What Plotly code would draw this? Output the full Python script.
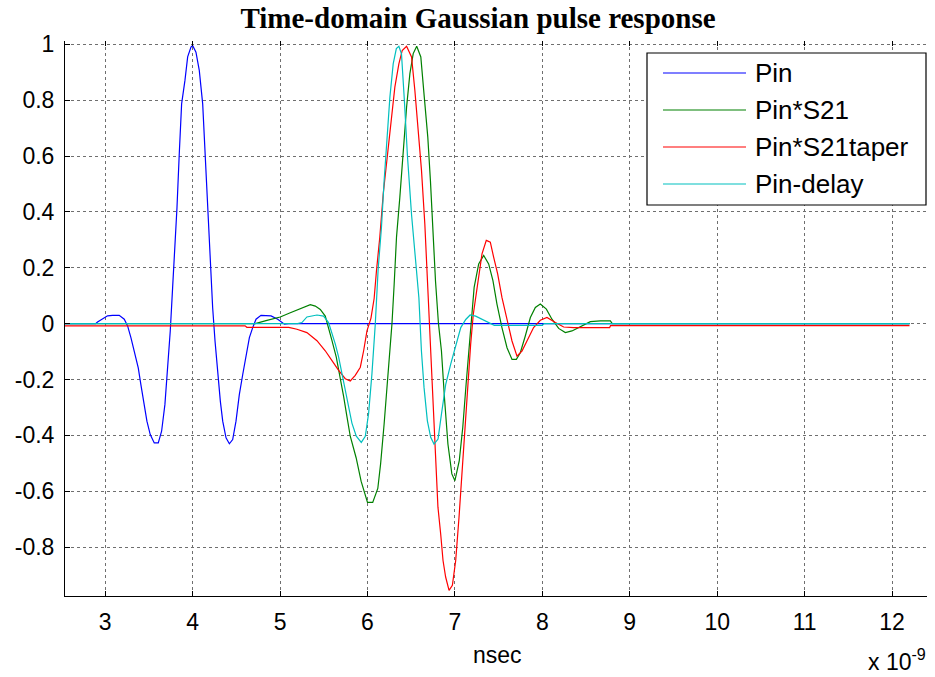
import plotly.graph_objects as go

# ---------------- data (time in ns, amplitude normalised) ----------------
series_names = ["Pin", "Pin*S21", "Pin*S21taper", "Pin-delay"]

pin_t = [2.54, 2.89, 2.912, 2.97, 3.027, 3.084, 3.16, 3.218, 3.256, 3.294, 3.332, 3.378,
         3.408, 3.439, 3.477, 3.515, 3.561, 3.607, 3.645, 3.683, 3.714, 3.744, 3.771,
         3.798, 3.821, 3.847, 3.874, 3.912, 3.943, 3.981, 4.0, 4.038, 4.076, 4.115,
         4.141, 4.172, 4.202, 4.229, 4.256, 4.286, 4.317, 4.344, 4.382, 4.42, 4.458,
         4.496, 4.534, 4.573, 4.611, 4.649, 4.687, 4.725, 4.782, 4.897, 4.973, 5.05,
         5.1, 12.2]
pin_v = [0, 0, 0.006, 0.016, 0.028, 0.03, 0.03, 0.016, -0.008, -0.05, -0.098, -0.158,
         -0.218, -0.278, -0.349, -0.397, -0.427, -0.427, -0.385, -0.289, -0.17, -0.026,
         0.129, 0.273, 0.416, 0.608, 0.787, 0.871, 0.955, 0.99, 0.996, 0.972, 0.907,
         0.787, 0.608, 0.416, 0.225, 0.057, -0.062, -0.182, -0.278, -0.349, -0.409,
         -0.43, -0.415, -0.349, -0.254, -0.182, -0.11, -0.05, -0.014, 0.016, 0.03,
         0.028, 0.016, -0.002, 0, 0]

s21_t = [2.54, 4.716, 4.85, 5.002, 5.117, 5.231, 5.346, 5.403, 5.46, 5.517, 5.555,
         5.594, 5.643, 5.689, 5.727, 5.765, 5.803, 5.87, 5.927, 6.0, 6.06, 6.118,
         6.15, 6.19, 6.228, 6.28, 6.305, 6.332, 6.37, 6.408, 6.447, 6.485, 6.523,
         6.563, 6.61, 6.65, 6.69, 6.72, 6.748, 6.778, 6.812, 6.846, 6.883, 6.92,
         6.965, 7.0, 7.05, 7.09, 7.128, 7.166, 7.2, 7.22, 7.272, 7.329, 7.386, 7.435,
         7.481, 7.538, 7.596, 7.653, 7.703, 7.748, 7.805, 7.863, 7.92, 7.977, 8.046,
         8.11, 8.187, 8.263, 8.339, 8.435, 8.549, 8.664, 8.778, 8.8, 12.2]
s21_v = [0, 0, 0.012, 0.024, 0.039, 0.054, 0.068, 0.063, 0.051, 0.027, -0.014,
         -0.061, -0.12, -0.19, -0.26, -0.333, -0.403, -0.48, -0.564, -0.64, -0.64, -0.59,
         -0.502, -0.36, -0.217, 0.0, 0.14, 0.31, 0.452, 0.63, 0.775, 0.895, 0.967,
         0.993, 0.955, 0.81, 0.667, 0.512, 0.333, 0.153, 0.0, -0.098, -0.276, -0.431,
         -0.538, -0.562, -0.49, -0.371, -0.217, -0.074, 0.045, 0.13, 0.214, 0.244,
         0.214, 0.154, 0.07, -0.014, -0.086, -0.128, -0.128, -0.104, -0.044, 0.022,
         0.058, 0.07, 0.052, 0.016, -0.017, -0.032, -0.026, -0.012, 0.007, 0.01, 0.01,
         0, 0]

taper_t = [2.54, 4.6, 4.62, 5.1, 5.193, 5.307, 5.422, 5.517, 5.594, 5.67, 5.746, 5.803,
           5.86, 5.918, 5.956, 5.994, 6.04, 6.076, 6.103, 6.141, 6.18, 6.237, 6.275,
           6.313, 6.359, 6.397, 6.447, 6.504, 6.542, 6.58, 6.618, 6.656, 6.68, 6.70,
           6.72, 6.75, 6.78, 6.806, 6.837, 6.864, 6.894, 6.933, 6.971, 7.009, 7.047,
           7.085, 7.123, 7.15, 7.18, 7.21, 7.253, 7.31, 7.359, 7.405, 7.443, 7.489,
           7.538, 7.596, 7.653, 7.71, 7.767, 7.824, 7.9, 7.977, 8.053, 8.149, 8.244,
           8.358, 8.77, 8.78, 12.2]
taper_v = [-0.008, -0.008, -0.013, -0.013, -0.02, -0.032, -0.061, -0.097, -0.132,
           -0.167, -0.197, -0.205, -0.185, -0.156, -0.097, -0.026, 0.02, 0.09, 0.19,
           0.31, 0.464, 0.63, 0.75, 0.847, 0.93, 0.978, 0.993, 0.955, 0.835, 0.703,
           0.548, 0.356, 0.2, 0.05, -0.098, -0.276, -0.49, -0.657, -0.752, -0.848,
           -0.907, -0.955, -0.937, -0.848, -0.693, -0.514, -0.371, -0.217, -0.074,
           0.033, 0.13, 0.25, 0.298, 0.292, 0.238, 0.178, 0.094, 0.01, -0.062, -0.116,
           -0.098, -0.062, -0.014, 0.012, 0.022, 0.004, -0.012, -0.014, -0.014, -0.007,
           -0.007]

delay_t = [2.54, 5.2, 5.25, 5.307, 5.422, 5.498, 5.555, 5.594, 5.632, 5.67, 5.708,
           5.746, 5.784, 5.822, 5.872, 5.929, 5.975, 6.013, 6.051, 6.089, 6.122, 6.16,
           6.19, 6.218, 6.256, 6.294, 6.33, 6.359, 6.389, 6.42, 6.458, 6.504, 6.55,
           6.588, 6.617, 6.647, 6.685, 6.723, 6.761, 6.807, 6.846, 6.895, 6.952, 7.01,
           7.067, 7.124, 7.174, 7.238, 7.334, 7.42, 7.45, 8.0, 8.02, 12.2]
delay_v = [0, 0, 0.004, 0.024, 0.031, 0.027, 0.004, -0.032, -0.073, -0.12, -0.179,
           -0.238, -0.297, -0.356, -0.403, -0.425, -0.403, -0.321, -0.179, -0.002,
           0.195, 0.345, 0.51, 0.655, 0.81, 0.93, 0.985, 0.993, 0.966, 0.81, 0.596,
           0.39, 0.213, 0.093, -0.098, -0.229, -0.348, -0.407, -0.431, -0.413, -0.324,
           -0.217, -0.145, -0.074, -0.014, 0.015, 0.031, 0.027, 0.012, 0.0, -0.006,
           -0.006, 0, 0]

x_ticks = [3, 4, 5, 6, 7, 8, 9, 10, 11, 12]
x_tick_labels = ["3", "4", "5", "6", "7", "8", "9", "10", "11", "12"]
y_ticks = [-0.8, -0.6, -0.4, -0.2, 0, 0.2, 0.4, 0.6, 0.8, 1]
y_tick_labels = ["-0.8", "-0.6", "-0.4", "-0.2", "0", "0.2", "0.4", "0.6", "0.8", "1"]

# ---------------- styling ----------------
colors = ["#0000ff", "#008000", "#ff0000", "#00bfbf"]
W, H = 935, 677
L, R, T, B = 65, 927, 41, 596
SANS = "Liberation Sans, Arial, sans-serif"
FS = 23
LEG_FS = 26


def px(xp):
    return (xp - L) / (R - L)


def py(yp):
    return (B - yp) / (B - T)


fig = go.Figure()
data = [(pin_t, pin_v), (s21_t, s21_v), (taper_t, taper_v), (delay_t, delay_v)]
for name, (t, v), c in zip(series_names, data, colors):
    fig.add_trace(go.Scatter(x=t, y=v, mode="lines", name=name,
                             line=dict(color=c, width=1.2), showlegend=False))

# invisible helper trace so the top tick axis is drawn
fig.add_trace(go.Scatter(x=[x_ticks[0]], y=[0], xaxis="x2", mode="markers",
                         marker=dict(opacity=0), showlegend=False, hoverinfo="skip"))

shapes = []
annotations = []
# MATLAB-like legend box
shapes.append(dict(type="rect", xref="paper", yref="paper",
                   x0=px(647), x1=px(926), y0=py(205), y1=py(53),
                   line=dict(color="black", width=1.2), fillcolor="white", layer="above"))
rows = [73, 110, 147, 184]
for name, c, ry in zip(series_names, colors, rows):
    shapes.append(dict(type="line", xref="paper", yref="paper",
                       x0=px(663), x1=px(746), y0=py(ry), y1=py(ry),
                       line=dict(color=c, width=1.2), layer="above"))
    annotations.append(dict(text=name, xref="paper", yref="paper", x=px(753), y=py(ry),
                            xanchor="left", yanchor="middle", showarrow=False,
                            font=dict(family=SANS, size=LEG_FS, color="black")))

annotations.append(dict(text="nsec", xref="paper", yref="paper", x=px(497), y=py(655),
                        xanchor="center", yanchor="middle", showarrow=False,
                        font=dict(family=SANS, size=FS, color="black")))
annotations.append(dict(text="x 10<sup>-9</sup>", xref="paper", yref="paper",
                        x=px(866), y=py(677), xanchor="left", yanchor="bottom",
                        showarrow=False, font=dict(family=SANS, size=FS, color="black")))

axis_common = dict(showgrid=True, gridcolor="#6f6f6f", griddash="dot", gridwidth=1,
                   zeroline=False, showline=True, linecolor="black", linewidth=1,
                   ticks="inside", ticklen=5, tickcolor="black",
                   tickfont=dict(family=SANS, size=FS, color="black"))

fig.update_layout(
    width=W, height=H,
    margin=dict(l=L, r=W - R, t=T, b=H - B),
    paper_bgcolor="white", plot_bgcolor="white",
    title=dict(text="<b>Time-domain Gaussian pulse response</b>",
               font=dict(family="Liberation Serif, Times New Roman, serif", size=29,
                         color="black"),
               x=478 / W, xanchor="center", xref="container",
               y=1 - 18 / H, yanchor="middle", yref="container"),
    xaxis=dict(range=[2.54, 12.4], tickvals=x_ticks, ticktext=x_tick_labels,
               ticklabelstandoff=5, **axis_common),
    xaxis2=dict(range=[2.54, 12.4], overlaying="x", side="top", matches="x",
                tickvals=x_ticks, showticklabels=False, ticks="inside", ticklen=5,
                tickcolor="black", showgrid=False, showline=False, zeroline=False),
    yaxis=dict(range=[-0.975, 1.012], tickvals=y_ticks, ticktext=y_tick_labels,
               ticklabelstandoff=5, **axis_common),
    shapes=shapes,
    annotations=annotations,
    showlegend=False,
)

fig.write_html("out.html")
